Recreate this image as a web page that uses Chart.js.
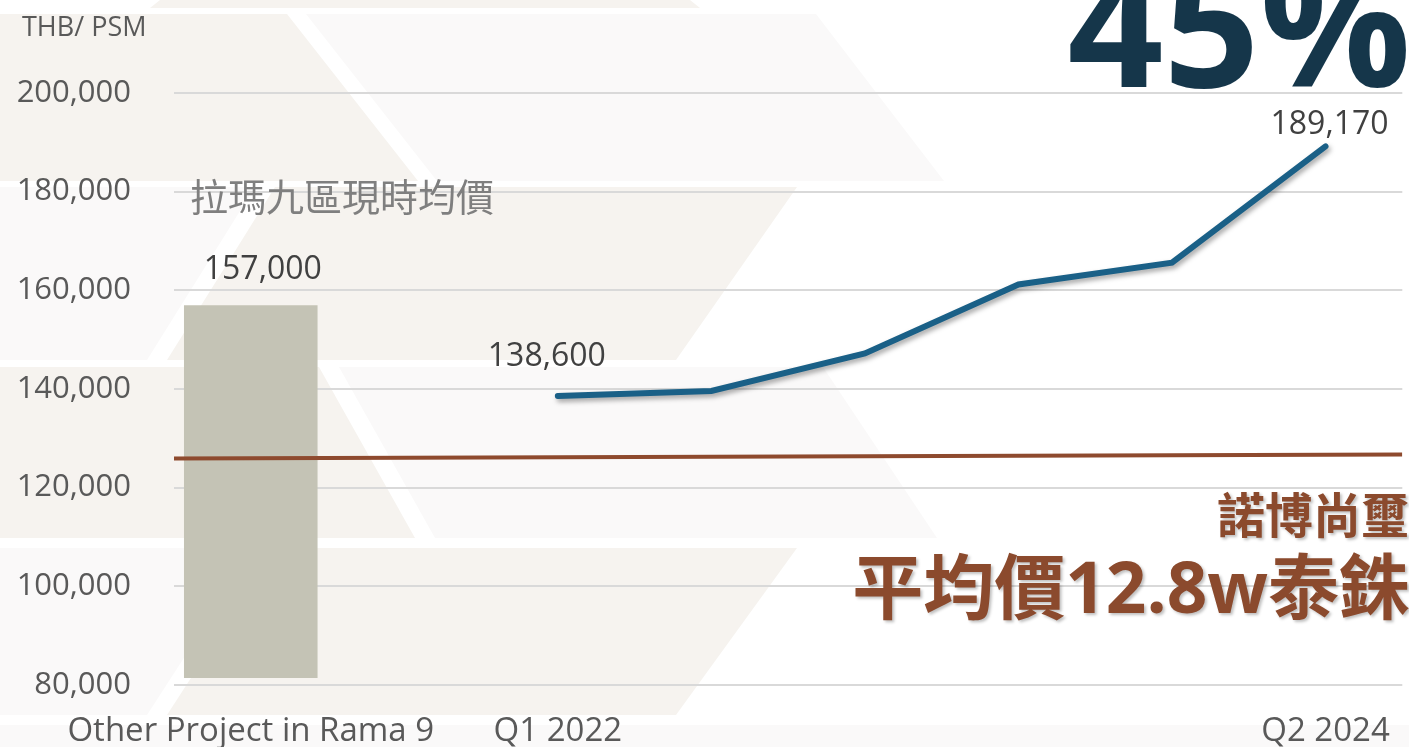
<!DOCTYPE html>
<html>
<head>
<meta charset="utf-8">
<title>Rama 9 price per sqm</title>
<script src="https://cdn.jsdelivr.net/npm/chart.js"></script>
<style>
  html, body { margin: 0; padding: 0; background: #fff; }
  #wrap { position: relative; width: 1409px; height: 747px; overflow: hidden; }
</style>
</head>
<body>
<div id="wrap"><canvas id="myChart" width="1409" height="747"></canvas></div>
<script>
// x categories (empty strings = quarters without a label)
const categories = ["Other Project in Rama 9", "", "Q1 2022", "", "", "", "", "Q2 2024"];
// grey bar: current average of other Rama 9 projects (floating bar: base, top)
const barBase = 81400;
const barValue = 157000;
// blue line: price per quarter
const lineValues = [null, null, 138600, 139600, 147200, 161200, 165600, 189170];
// brown reference line, start and end value
const avgLine = [125900, 126700];
// which line points get a value label
const labelledPoints = [2, 7];

const FONT = "'Open Sans', 'Noto Sans CJK TC', sans-serif";
const CJK = "'Noto Sans CJK TC', 'Open Sans', sans-serif";
const fmt = (v) => v.toLocaleString("en-US");

// light chevron shapes behind the chart
const background = {
  id: "background",
  beforeDraw(chart) {
    const ctx = chart.ctx;
    const beige = "#f6f3ef";
    const grey = "#faf9f9";
    const shapes = [
      [beige, [[160, 0], [690, 0], [700, 8], [150, 8]]],
      [beige, [[0, 14], [287, 14], [418, 181], [0, 181]]],
      [grey, [[306, 14], [816, 14], [944, 181], [437, 181]]],
      [grey, [[0, 187], [255, 187], [147, 360], [0, 360]]],
      [beige, [[275, 187], [797, 187], [676, 360], [167, 360]]],
      [beige, [[0, 367], [319, 367], [415, 538], [0, 538]]],
      [grey, [[339, 367], [823, 367], [937, 538], [435, 538]]],
      [grey, [[0, 548], [255, 548], [147, 715], [0, 715]]],
      [beige, [[275, 548], [797, 548], [676, 715], [167, 715]]],
      [grey, [[0, 725], [1409, 725], [1409, 747], [0, 747]]],
    ];
    ctx.save();
    shapes.forEach(([color, pts]) => {
      ctx.fillStyle = color;
      ctx.beginPath();
      pts.forEach(([x, y], i) => (i ? ctx.lineTo(x, y) : ctx.moveTo(x, y)));
      ctx.closePath();
      ctx.fill();
    });
    ctx.restore();
  },
};

// drop shadow under the blue line
const lineShadow = {
  id: "lineShadow",
  beforeDatasetDraw(chart, args) {
    if (args.index !== 2) return;
    const ctx = chart.ctx;
    ctx.save();
    ctx.shadowColor = "rgba(0,0,0,0.35)";
    ctx.shadowBlur = 5;
    ctx.shadowOffsetX = 2;
    ctx.shadowOffsetY = 3;
  },
  afterDatasetDraw(chart, args) {
    if (args.index !== 2) return;
    chart.ctx.restore();
  },
};

// value labels, axis title and the big callouts
const texts = {
  id: "texts",
  afterDraw(chart) {
    const ctx = chart.ctx;
    ctx.save();

    // value labels
    ctx.font = "32px " + FONT;
    ctx.fillStyle = "#404040";
    ctx.textAlign = "center";
    ctx.textBaseline = "middle";
    const bar = chart.getDatasetMeta(0).data[0];
    ctx.fillText(fmt(barValue), bar.x + 12, bar.y - 35);
    const pts = chart.getDatasetMeta(2).data;
    labelledPoints.forEach((i, k) => {
      const p = pts[i];
      const dx = k === 0 ? -11 : 4;
      const dy = k === 0 ? -39 : -22;
      ctx.fillText(fmt(lineValues[i]), p.x + dx, p.y + dy);
    });

    // axis title
    ctx.textAlign = "left";
    ctx.textBaseline = "alphabetic";
    ctx.fillStyle = "#595959";
    ctx.font = "27px " + FONT;
    ctx.fillText("THB/ PSM", 22, 36);

    // bar caption
    ctx.textBaseline = "middle";
    ctx.fillStyle = "#7f7f7f";
    ctx.font = "38px " + CJK;
    ctx.fillText("拉瑪九區現時均價", 190, 197);

    // big percentage
    ctx.textAlign = "right";
    ctx.textBaseline = "alphabetic";
    ctx.fillStyle = "#15364a";
    ctx.font = "bold 168px " + FONT;
    ctx.fillText("45%", 1411, 87);

    // brown callout
    ctx.shadowColor = "rgba(0,0,0,0.25)";
    ctx.shadowBlur = 3;
    ctx.shadowOffsetX = 2;
    ctx.shadowOffsetY = 2;
    ctx.fillStyle = "#8b4a2d";
    ctx.textBaseline = "middle";
    ctx.font = "bold 48px " + CJK;
    ctx.fillText("諾博尚璽", 1409, 515);
    ctx.font = "bold 71px " + FONT;
    ctx.fillText("平均價12.8w泰銖", 1410, 593);

    ctx.restore();
  },
};

const ctx = document.getElementById("myChart").getContext("2d");
new Chart(ctx, {
  data: {
    labels: categories,
    datasets: [
      {
        type: "bar",
        data: categories.map((_, i) => (i === 0 ? [barBase, barValue] : null)),
        backgroundColor: "#c4c3b5",
        grouped: false,
        barPercentage: 0.87,
        categoryPercentage: 1,
        order: 3,
      },
      {
        type: "line",
        xAxisID: "xr",
        data: [{ x: 0, y: avgLine[0] }, { x: 1, y: avgLine[1] }],
        borderColor: "#8e4a2e",
        borderWidth: 4,
        pointRadius: 0,
        order: 2,
      },
      {
        type: "line",
        data: lineValues,
        borderColor: "#1a6087",
        borderWidth: 6,
        borderCapStyle: "round",
        pointRadius: 0,
        tension: 0,
        order: 1,
      },
    ],
  },
  options: {
    responsive: false,
    animation: false,
    layout: { padding: { top: 93, right: 3, left: 0, bottom: 0 } },
    plugins: { legend: { display: false }, tooltip: { enabled: false } },
    scales: {
      x: {
        offset: true,
        grid: { display: false },
        border: { display: false },
        ticks: {
          autoSkip: false,
          maxRotation: 0,
          minRotation: 0,
          padding: 19,
          color: "#595959",
          font: { family: FONT, size: 33 },
        },
        afterFit: (s) => { s.height = 62; },
      },
      xr: { type: "linear", min: 0, max: 1, display: false },
      y: {
        min: 80000,
        max: 200000,
        border: { display: false },
        grid: { color: "#d9d9d9", lineWidth: 2, drawTicks: false },
        ticks: {
          stepSize: 20000,
          padding: 43,
          color: "#595959",
          font: { family: FONT, size: 31 },
          callback: (v) => fmt(v),
        },
        afterFit: (s) => { s.width = 174; },
      },
    },
  },
  plugins: [background, lineShadow, texts],
});
</script>
</body>
</html>
